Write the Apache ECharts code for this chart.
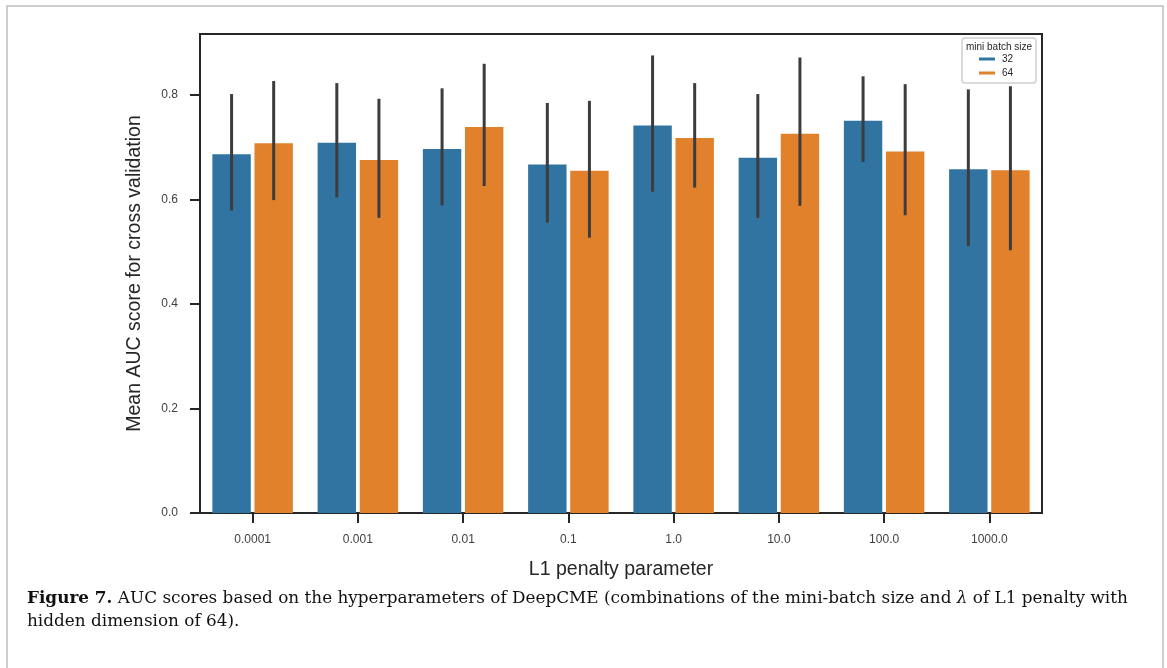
<!DOCTYPE html>
<html>
<head>
<meta charset="utf-8">
<script src="https://cdn.jsdelivr.net/npm/echarts@6/dist/echarts.min.js"></script>
<style>
html,body{margin:0;padding:0;background:#fff;}
#chart{width:1167px;height:668px;}
</style>
</head>
<body>
<div id="chart"></div>
<script>
const categories = ['0.0001', '0.001', '0.01', '0.1', '1.0', '10.0', '100.0', '1000.0'];
const seriesNames = ['32', '64'];
const mean32 = [0.687, 0.709, 0.697, 0.667, 0.742, 0.680, 0.751, 0.658];
const mean64 = [0.708, 0.676, 0.739, 0.655, 0.718, 0.726, 0.692, 0.656];
const low32  = [0.579, 0.604, 0.589, 0.556, 0.615, 0.565, 0.672, 0.511];
const high32 = [0.802, 0.823, 0.813, 0.785, 0.876, 0.802, 0.836, 0.811];
const low64  = [0.599, 0.565, 0.626, 0.527, 0.623, 0.588, 0.570, 0.503];
const high64 = [0.827, 0.793, 0.860, 0.789, 0.823, 0.872, 0.821, 0.817];
const yTicks = [0, 0.2, 0.4, 0.6, 0.8];

const colors = ['#3274A1', '#E1812C'];
const sans = "'Liberation Sans', Arial, sans-serif";
const serif = "'DejaVu Serif', 'Liberation Serif', serif";

function errSeries(lows, highs, offsetSign) {
  return {
    type: 'custom',
    silent: true,
    z: 5,
    clip: false,
    renderItem: function (params, api) {
      const idx = api.value(0);
      const band = api.size([1, 0])[0];
      const pLow = api.coord([idx, api.value(1)]);
      const pHigh = api.coord([idx, api.value(2)]);
      const x = pLow[0] + offsetSign * band * 0.2;
      return {
        type: 'line',
        shape: { x1: x, y1: pLow[1], x2: x, y2: pHigh[1] },
        style: { stroke: '#3c3c3c', lineWidth: 3 }
      };
    },
    data: categories.map((c, i) => [i, lows[i], highs[i]])
  };
}

const chart = echarts.init(document.getElementById('chart'), null, { renderer: 'canvas' });
chart.setOption({
  animation: false,
  backgroundColor: '#fff',
  color: colors,
  grid: {
    left: 200, top: 34, right: 125, bottom: 155,
    show: true, borderColor: '#262626', borderWidth: 2, backgroundColor: 'transparent'
  },
  xAxis: {
    type: 'category',
    data: categories,
    boundaryGap: true,
    name: 'L1 penalty parameter',
    nameLocation: 'middle',
    nameGap: 47,
    nameTextStyle: { fontFamily: sans, fontSize: 19.5, color: '#262626' },
    axisLine: { show: true, lineStyle: { color: '#262626', width: 2 } },
    axisTick: { show: true, alignWithLabel: true, length: 10, lineStyle: { color: '#262626', width: 2 } },
    axisLabel: { fontFamily: sans, fontSize: 12, color: '#404040', margin: 21 },
    splitLine: { show: false }
  },
  yAxis: {
    type: 'value',
    min: 0,
    max: 0.917,
    interval: 0.2,
    name: 'Mean AUC score for cross validation',
    nameLocation: 'middle',
    nameGap: 55,
    nameTextStyle: { fontFamily: sans, fontSize: 19.5, color: '#262626' },
    axisLine: { show: true, lineStyle: { color: '#262626', width: 2 } },
    axisTick: { show: true, length: 10, customValues: yTicks, lineStyle: { color: '#262626', width: 2 } },
    axisLabel: {
      fontFamily: sans, fontSize: 12, color: '#404040', margin: 22,
      customValues: yTicks,
      formatter: v => v.toFixed(1)
    },
    splitLine: { show: false }
  },
  legend: {
    data: seriesNames,
    orient: 'vertical',
    left: 979,
    top: 54,
    icon: 'rect',
    itemWidth: 16,
    itemHeight: 3,
    itemGap: 4,
    padding: 0,
    z: 10,
    textStyle: { fontFamily: sans, fontSize: 10, color: '#262626', padding: [0, 0, 0, 2] }
  },
  graphic: [
    {
      type: 'rect', z: 1,
      shape: { x: 7, y: 6, width: 1156, height: 720 },
      style: { fill: 'none', stroke: '#bdbdbd', lineWidth: 1.5 }
    },
    {
      type: 'rect', z: 8,
      shape: { x: 962, y: 38, width: 74, height: 45, r: 3 },
      style: { fill: 'rgba(255,255,255,0.8)', stroke: '#d0d0d0', lineWidth: 1.5 }
    },
    {
      type: 'text', z: 10,
      x: 999, y: 47,
      style: {
        text: 'mini batch size',
        fontFamily: sans, fontSize: 10, fill: '#262626',
        align: 'center', verticalAlign: 'middle'
      }
    },
    {
      type: 'text', z: 10,
      x: 27, y: 599,
      style: {
        text: '{b|Figure 7.} AUC scores based on the hyperparameters of DeepCME (combinations of the mini-batch size and {i|λ} of L1 penalty with',
        fontFamily: serif, fontSize: 16.85, fill: '#111',
        verticalAlign: 'middle',
        rich: {
          b: { fontFamily: serif, fontSize: 16.85, fontWeight: 'bold', fill: '#111' },
          i: { fontFamily: serif, fontSize: 16.85, fontStyle: 'italic', fill: '#111' }
        }
      }
    },
    {
      type: 'text', z: 10,
      x: 27, y: 622,
      style: {
        text: 'hidden dimension of 64).',
        fontFamily: serif, fontSize: 16.85, fill: '#111',
        verticalAlign: 'middle'
      }
    }
  ],
  series: [
    {
      name: seriesNames[0], type: 'bar', data: mean32,
      barWidth: '36.5%', barGap: '9.6%',
      itemStyle: { color: colors[0] }
    },
    {
      name: seriesNames[1], type: 'bar', data: mean64,
      barWidth: '36.5%', barGap: '9.6%',
      itemStyle: { color: colors[1] }
    },
    errSeries(low32, high32, -1),
    errSeries(low64, high64, 1)
  ]
});
</script>
</body>
</html>
